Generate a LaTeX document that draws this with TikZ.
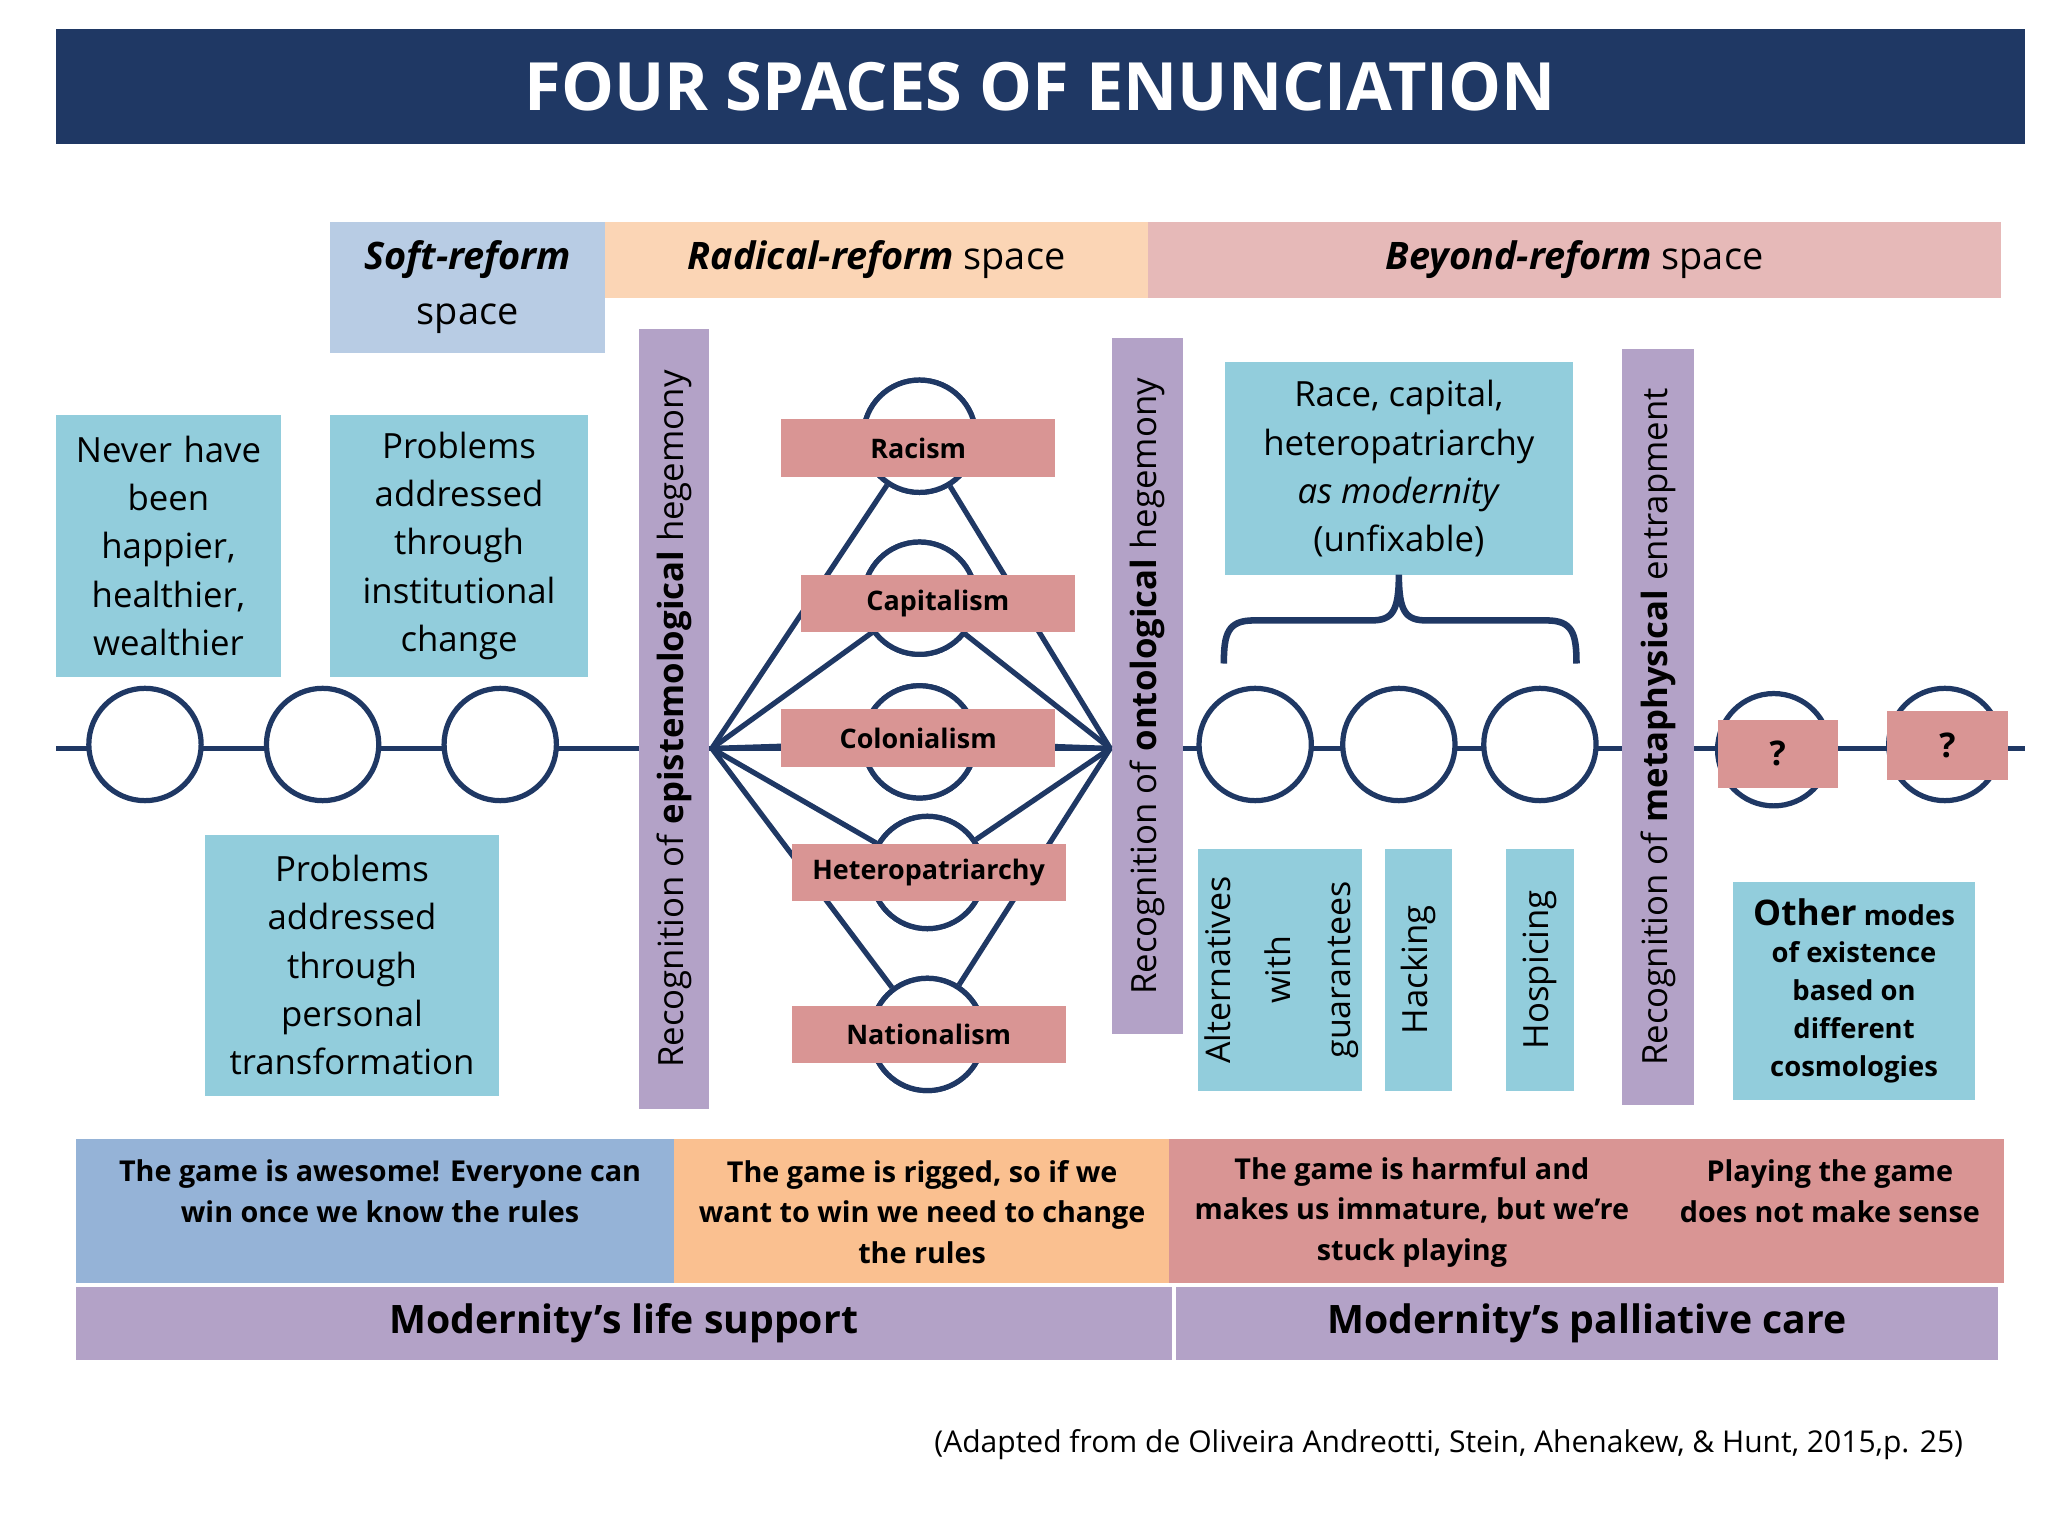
\documentclass[tikz,border=0pt]{standalone}
\usepackage{fontspec}
\setmainfont{Open Sans}
\definecolor{navyc}{HTML}{1F3864}
\definecolor{bluec}{HTML}{92CDDC}
\definecolor{redc}{HTML}{D99594}
\definecolor{purc}{HTML}{B3A2C7}
\definecolor{softc}{RGB}{184,204,228}
\definecolor{radc}{RGB}{251,213,181}
\definecolor{beyc}{RGB}{230,185,184}
\definecolor{bbluec}{RGB}{149,179,215}
\definecolor{borc}{RGB}{250,192,144}
\begin{document}
\begin{tikzpicture}[x=0.5pt,y=-0.5pt,
  navy/.style={draw=navyc,line width=2pt},
  box/.style={inner sep=0pt,align=center,font=\fontsize{13.3}{18.5}\selectfont},
  lbl/.style={fill=redc,inner sep=0pt,font=\bfseries\fontsize{10.3}{12}\selectfont},
  circ/.style={circle,draw=navyc,line width=2pt,fill=white,minimum size=43pt,inner sep=0pt},
  bar/.style={fill=purc,inner sep=0pt,rotate=90,font=\fontsize{13.3}{16}\selectfont},
  bot/.style={inner sep=0pt,align=center,font=\bfseries\fontsize{11}{15.5}\selectfont}]
\useasboundingbox (0,0) rectangle (1568,1176);
\fill[white] (0,0) rectangle (1568,1176);
% title
\node[fill=navyc,minimum width=753.5pt,minimum height=44pt,text=white,font=\bfseries\fontsize{25.5}{30}\selectfont] (title) at (796.5,66) {FOUR SPACES OF ENUNCIATION};
% headers
\node[fill=softc,minimum width=105pt,minimum height=50pt,box,font=\fontsize{14.5}{21}\selectfont] (soft) at (358,220) {\textbf{\textit{Soft-reform}}\\space};
\node[fill=radc,minimum width=208pt,minimum height=29pt,box,font=\fontsize{14.5}{18}\selectfont] (rad) at (671,199) {\textbf{\textit{Radical-reform}} space};
\node[fill=beyc,minimum width=326.5pt,minimum height=29pt,box,font=\fontsize{14.5}{18}\selectfont] (bey) at (1205.5,199) {\textbf{\textit{Beyond-reform}} space};
% main line
\coordinate (L0) at (43,573); \coordinate (L1) at (1550,573);
\draw[navy] (L0) -- (L1);
% left circles
\node[circ] (c1) at (111,570) {};
\node[circ] (c2) at (247,570) {};
\node[circ] (c3) at (383,570) {};
\node[box,fill=bluec,minimum width=86pt,minimum height=100pt,text width=80pt] (b1) at (129,418) {Never have\\been\\happier,\\healthier,\\wealthier};
\node[box,fill=bluec,minimum width=98.5pt,minimum height=100pt,text width=95pt] (b2) at (351.5,418) {Problems\\addressed\\through\\institutional\\change};
\node[box,fill=bluec,minimum width=112.5pt,minimum height=100pt,text width=108pt] (b3) at (269.5,739) {Problems\\addressed\\through\\personal\\transformation};
% bars
\node[bar,minimum width=298.5pt,minimum height=27pt] (e1) at (516,550.5) {Recognition of \textbf{epistemological} hegemony};
\node[bar,minimum width=266.5pt,minimum height=27.5pt] (e2) at (878.5,525.5) {Recognition of \textbf{ontological} hegemony};
\node[bar,minimum width=289.5pt,minimum height=27.5pt] (e3) at (1269.5,556.5) {Recognition of \textbf{metaphysical} entrapment};
% hub
\coordinate (hl) at (545,573); \coordinate (hr) at (850,573);
\node[circ] (k1) at (704,334) {};
\node[circ] (k2) at (704,458) {};
\node[circ] (k3) at (704,568) {};
\node[circ] (k4) at (710,668) {};
\node[circ] (k5) at (710,792) {};
\foreach \k in {k1,k2,k3,k4,k5}{\draw[navy] (hl) -- (\k); \draw[navy] (hr) -- (\k);}
\foreach \k in {k1,k2,k3,k4,k5}{\node[circ] at (\k) {};}
\node[lbl,minimum width=105pt,minimum height=22pt] (r1) at (703,343) {Racism};
\node[lbl,minimum width=105pt,minimum height=22pt] (r2) at (718,462) {Capitalism};
\node[lbl,minimum width=105pt,minimum height=22pt] (r3) at (703,565) {Colonialism};
\node[lbl,minimum width=105pt,minimum height=22pt] (r4) at (711,668) {Heteropatriarchy};
\node[lbl,minimum width=105pt,minimum height=22pt] (r5) at (711,792) {Nationalism};
% beyond
\node[box,fill=bluec,minimum width=133pt,minimum height=81.5pt] (rc) at (1071,359) {Race, capital,\\heteropatriarchy\\\textit{as modernity}\\(unfixable)};
\draw[navyc,line width=2.5pt] (937,508) .. controls (937,485) and (940,475) .. (960,475) -- (1050,475) .. controls (1066,475) and (1071,468) .. (1071,440)
  .. controls (1071,468) and (1076,475) .. (1092,475) -- (1184,475) .. controls (1204,475) and (1207,485) .. (1207,508);
\node[circ] (d1) at (961,570) {};
\node[circ] (d2) at (1071,570) {};
\node[circ] (d3) at (1179,570) {};
\node[box,fill=bluec,minimum width=63pt,minimum height=92.5pt] (a1) at (980,742.5) {};
\node[rotate=90,align=center,font=\fontsize{13}{23}\selectfont] at (981,742.5) {Alternatives\\with\\guarantees};
\node[box,fill=bluec,minimum width=26pt,minimum height=92.5pt] (a2) at (1086,742.5) {};
\node[rotate=90,font=\fontsize{13.3}{18}\selectfont] at (a2) {Hacking};
\node[box,fill=bluec,minimum width=26pt,minimum height=92.5pt] (a3) at (1179,742.5) {};
\node[rotate=90,font=\fontsize{13.3}{18}\selectfont] at (a3) {Hospicing};
\node[circ] (q1) at (1358,574) {};
\node[circ] (q2) at (1489,570) {};
\node[lbl,minimum width=46pt,minimum height=26pt,font=\bfseries\fontsize{13}{14}\selectfont] at (1361,577) {?};
\node[lbl,minimum width=46pt,minimum height=26.5pt,font=\bfseries\fontsize{13}{14}\selectfont] at (1491,571) {?};
\node[box,fill=bluec,minimum width=92.5pt,minimum height=83.5pt,font=\bfseries\fontsize{10.5}{14.5}\selectfont] (om) at (1419.5,758.5) {{\fontsize{13.5}{14.5}\selectfont Other} modes\\of existence\\based on\\different\\cosmologies};
% bottom
\fill[bbluec] (58,872) rectangle (516,982);
\fill[borc] (516,872) rectangle (895,982);
\fill[redc] (895,872) rectangle (1534,982);
\node[bot] (g1) at (291,912) {The game is awesome! Everyone can\\win once we know the rules};
\node[bot] (g2) at (706,928) {The game is rigged, so if we\\want to win we need to change\\the rules};
\node[bot] (g3) at (1081,928) {The game is harmful and\\makes us immature, but we’re\\stuck playing};
\node[bot] (g4) at (1401,912) {Playing the game\\does not make sense};
\node[fill=purc,minimum width=419.5pt,minimum height=28pt,font=\bfseries\fontsize{15}{18}\selectfont] (m1) at (477.5,1013) {Modernity’s life support};
\node[fill=purc,minimum width=315pt,minimum height=28pt,font=\bfseries\fontsize{15}{18}\selectfont] (m2) at (1215,1013) {Modernity’s palliative care};
\node[anchor=east,font=\fontsize{11.5}{13}\selectfont] (cite) at (1510,1106) {(Adapted from de Oliveira Andreotti, Stein, Ahenakew, \& Hunt, 2015,p. 25)};
\end{tikzpicture}
\end{document}
